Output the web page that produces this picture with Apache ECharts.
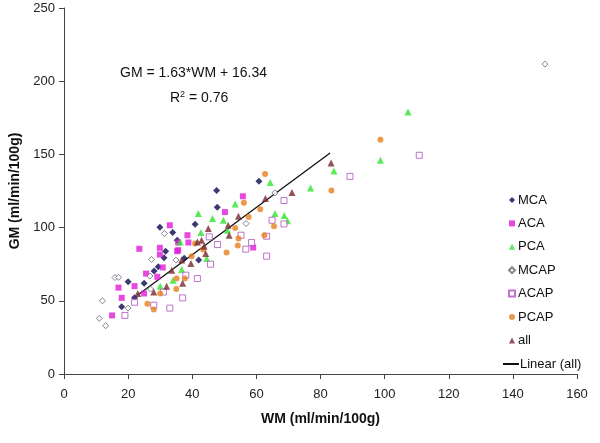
<!DOCTYPE html>
<html><head><meta charset="utf-8">
<script src="https://cdn.jsdelivr.net/npm/echarts@6/dist/echarts.min.js"></script>
<style>html,body{margin:0;padding:0;background:#fff}#c{width:600px;height:443px}</style>
</head><body><div id="c"></div>
<script>
// Data: [WM, GM]
const MCA = [[60.8,131.6],[47.6,125.3],[47.8,113.9],[40.9,102.3],[33.9,96.6],[29.9,100.3],[35.3,91.4],[31.7,83.9],[31.2,79.4],[37.5,79],[42,77.8],[28.1,70.3],[29.4,73.2],[18,46],[20,63],[25,62],[22,52]];
const ACA = [[55.8,121.4],[50.2,110.6],[33,101.6],[38.5,94.8],[38.8,89.8],[35.6,89.8],[35.6,84.6],[59,86.4],[23.5,85.5],[29.9,86.2],[29.9,81.6],[35.3,83.9],[25.6,68.6],[29.1,66.4],[30.8,72.8],[15,40],[18,52],[17,59],[22,60],[25,55]];
const PCA = [[107.3,179],[98.7,146],[84.2,138.7],[64.3,130.8],[76.9,127],[53.4,116.2],[41.9,109.6],[46.3,106.2],[49.7,105],[65.8,109.6],[68.7,108.2],[69.7,104.6],[42.7,96.6],[36.2,90.2],[44.5,78.9],[36.7,71.4],[51,98.2],[30,60],[34,64]];
const MCAP = [[150,211.7],[65.8,123.7],[56.8,102.8],[31.3,96],[27.3,78.2],[34.9,77.8],[26.8,66.9],[15.9,65.9],[12,50],[11,38],[13,33],[17,66],[20,45],[27,58]];
const ACAP = [[110.8,149.4],[89.2,135],[68.6,118.5],[64.9,105],[68.6,102.5],[45.3,93.7],[47.9,88.4],[55.2,94.8],[58.5,89.8],[56.7,85.3],[63.2,94.1],[63.2,80.5],[45.7,75],[38,67.5],[41.6,65.2],[19,40],[22,49],[28,47],[33,45],[37,52],[31,56]];
const PCAP = [[98.7,160],[83.4,125.3],[62.7,136.6],[56.1,116.9],[61.2,112.5],[57.6,107.3],[65.5,101],[53.4,99.8],[54.4,92.6],[62.5,94.8],[40.9,89.1],[54.2,87.8],[43.4,85],[50.7,83],[39.8,80.5],[35.1,65.2],[37.7,65.2],[26,48],[30,55],[35,58],[28,44]];
const ALL = [[83.3,144.1],[71.1,124],[62.8,119.8],[54.4,107.8],[51.2,101.6],[45,99.4],[51.5,94.8],[41.6,90.2],[42.9,91.4],[43.7,87.3],[44.2,82.3],[39.6,75.5],[36.7,77.8],[33.6,70.9],[23,55],[28,56],[32,60],[37,62]];
const LINEAR = [[23,54],[83,151]];
const xTicks = [0,20,40,60,80,100,120,140,160];
const yTicks = [0,50,100,150,200,250];

const font = 'Liberation Sans, Arial, sans-serif';
const chart = echarts.init(document.getElementById('c'), null, {renderer:'canvas'});
function sc(name, data, symbol, size, color, hollow){
  return {name, type:'scatter', data, symbol, symbolSize:size, z:3,
    itemStyle: hollow ? {color:'#fff', borderColor:color, borderWidth:1} : {color}};
}
chart.setOption({
  animation:false,
  backgroundColor:'#fff',
  grid:{left:64,right:23,top:8,bottom:69,containLabel:false},
  xAxis:{type:'value',min:xTicks[0],max:xTicks[xTicks.length-1],interval:20,
    name:'WM (ml/min/100g)',nameLocation:'middle',nameGap:38,
    nameTextStyle:{fontFamily:font,fontSize:14,fontWeight:'bold',color:'#111'},
    axisLine:{lineStyle:{color:'#444',width:1}},axisTick:{length:5,lineStyle:{color:'#444'}},
    axisLabel:{fontFamily:font,fontSize:13,color:'#222',margin:14},splitLine:{show:false}},
  yAxis:{type:'value',min:yTicks[0],max:yTicks[yTicks.length-1],interval:50,
    name:'GM (ml/min/100g)',nameLocation:'middle',nameGap:38,nameRotate:90,
    nameTextStyle:{fontFamily:font,fontSize:14,fontWeight:'bold',color:'#111'},
    axisLine:{show:true,lineStyle:{color:'#444',width:1}},axisTick:{show:true,length:5,lineStyle:{color:'#444'}},
    axisLabel:{fontFamily:font,fontSize:13,color:'#222',margin:9},splitLine:{show:false}},
  legend:[
    {orient:'vertical',left:503,top:187,itemWidth:6,itemHeight:6,itemGap:7.4,
     data:['MCA','ACA','PCA','MCAP','ACAP','PCAP','all'],
     textStyle:{fontFamily:font,fontSize:13,color:'#111',lineHeight:16,padding:[0,0,0,-2]}},
    {orient:'vertical',left:497,top:351,itemWidth:16,itemHeight:2,itemGap:7,
     data:['Linear (all)'],
     textStyle:{fontFamily:font,fontSize:13,color:'#111',lineHeight:16,padding:[0,0,0,-4]}}
  ],
  graphic:[
    {type:'text',left:120,top:66,style:{text:'GM = 1.63*WM + 16.34',font:'14px '+font,fill:'#111'}},
    {type:'text',left:170,top:90,style:{text:'R{s|2} = 0.76',font:'14px '+font,fill:'#111',
      rich:{s:{fontSize:9,verticalAlign:'top',padding:[0,0,8,0],fontFamily:font,fill:'#111'}}}}
  ],
  series:[
    sc('MCA',MCA,'diamond',7,'#0a0a50',false),
    sc('ACA',ACA,'rect',6,'#e01ad8',false),
    sc('PCA',PCA,'triangle',7,'#2ee62e',false),
    sc('MCAP',MCAP,'diamond',6,'#666677',true),
    sc('ACAP',ACAP,'rect',6,'#b050c0',true),
    sc('PCAP',PCAP,'circle',6,'#e8801e',false),
    sc('all',ALL,'triangle',7,'#7a2830',false),
    {name:'Linear (all)',type:'line',data:LINEAR,symbol:'none',showSymbol:false,z:2,
     lineStyle:{color:'#111',width:1.3},itemStyle:{color:'#111'}}
  ]
});
</script></body></html>
